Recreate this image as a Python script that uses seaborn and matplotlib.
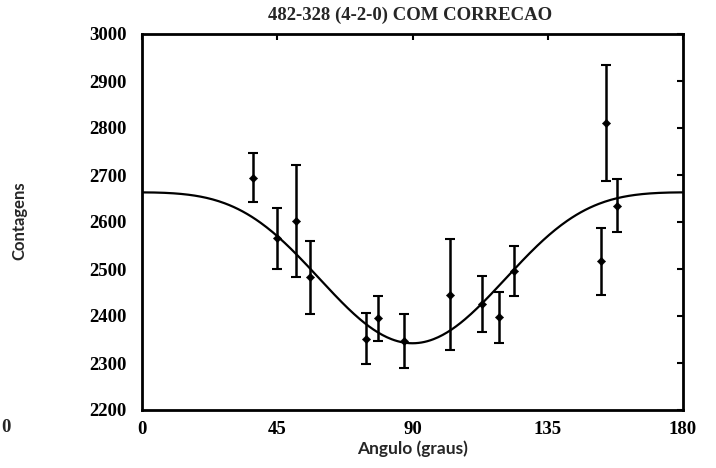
import numpy as np
import pandas as pd
import matplotlib
matplotlib.use("Agg")
import matplotlib.pyplot as plt
import seaborn as sns

# Measured points
angles = [37.0, 44.8, 51.1, 55.9, 74.5, 78.4, 87.2, 102.4, 113.0, 118.9, 123.8, 152.6, 154.4, 157.9]
counts = [2694, 2565, 2602, 2482, 2352, 2395, 2347, 2445, 2426, 2397, 2496, 2516, 2811, 2635]
errors = [52, 65, 120, 78, 55, 48, 58, 118, 60, 55, 53, 71, 123, 56]

# Fitted Legendre coefficients (A0, A2, A4)
fit_coefs = [2485.0, 239.7, -61.7]

x_ticks = [0, 45, 90, 135, 180]
y_ticks = [2200, 2300, 2400, 2500, 2600, 2700, 2800, 2900, 3000]

title = "482-328 (4-2-0) COM CORRECAO"
xlabel = "Angulo (graus)"
ylabel = "Contagens"

sns.set_style("white")
plt.rcParams["font.family"] = ["Liberation Serif", "DejaVu Serif"]

fig = plt.figure(figsize=(7.16, 4.68), dpi=100)
ax = fig.add_axes([142/716, 1-410/468, (683-142)/716, (410-34)/468])

theta = np.linspace(0, 180, 361)
c = np.cos(np.radians(theta))
p2 = (3*c**2 - 1)/2
p4 = (35*c**4 - 30*c**2 + 3)/8
curve = fit_coefs[0] + fit_coefs[1]*p2 + fit_coefs[2]*p4
curve_df = pd.DataFrame({"theta": theta, "W": curve})
sns.lineplot(data=curve_df, x="theta", y="W", ax=ax, color="black", lw=1.6)

df = pd.DataFrame({"angle": angles, "count": counts, "err": errors})
ax.errorbar(df["angle"], df["count"], yerr=df["err"], fmt="none",
            ecolor="black", elinewidth=1.8, capsize=3.5, capthick=1.5)
sns.scatterplot(data=df, x="angle", y="count", ax=ax, color="black",
                marker="D", s=18, edgecolor="black", zorder=5)

ax.set_xlim(0, 180)
ax.set_ylim(2200, 3000)
ax.set_xticks(x_ticks)
ax.set_yticks(y_ticks)
ax.tick_params(direction="in", length=4, width=1.5, top=True, right=True,
               labelsize=13.5, colors="black")
ax.tick_params(axis="y", pad=11)
ax.tick_params(axis="x", pad=8)
for lbl in ax.get_xticklabels() + ax.get_yticklabels():
    lbl.set_fontweight("bold")
for s in ax.spines.values():
    s.set_linewidth(2)
    s.set_color("black")

ax.set_xlabel(xlabel, family=["Lato", "DejaVu Sans"], fontsize=12.5,
              fontweight="bold", labelpad=2)
ax.set_ylabel("")
fig.text(19/716, 1-221/468, ylabel, rotation=90, ha="center", va="center",
         family=["Lato", "DejaVu Sans"], fontsize=12, fontweight="bold")
fig.text(410/716, 1-15/468, title, ha="center", va="center", fontsize=13.5,
         fontweight="bold")
fig.text(1/716, 1-428/468, "0", ha="left", va="center", fontsize=13.5,
         fontweight="bold")

fig.savefig("out.png", dpi=100)
